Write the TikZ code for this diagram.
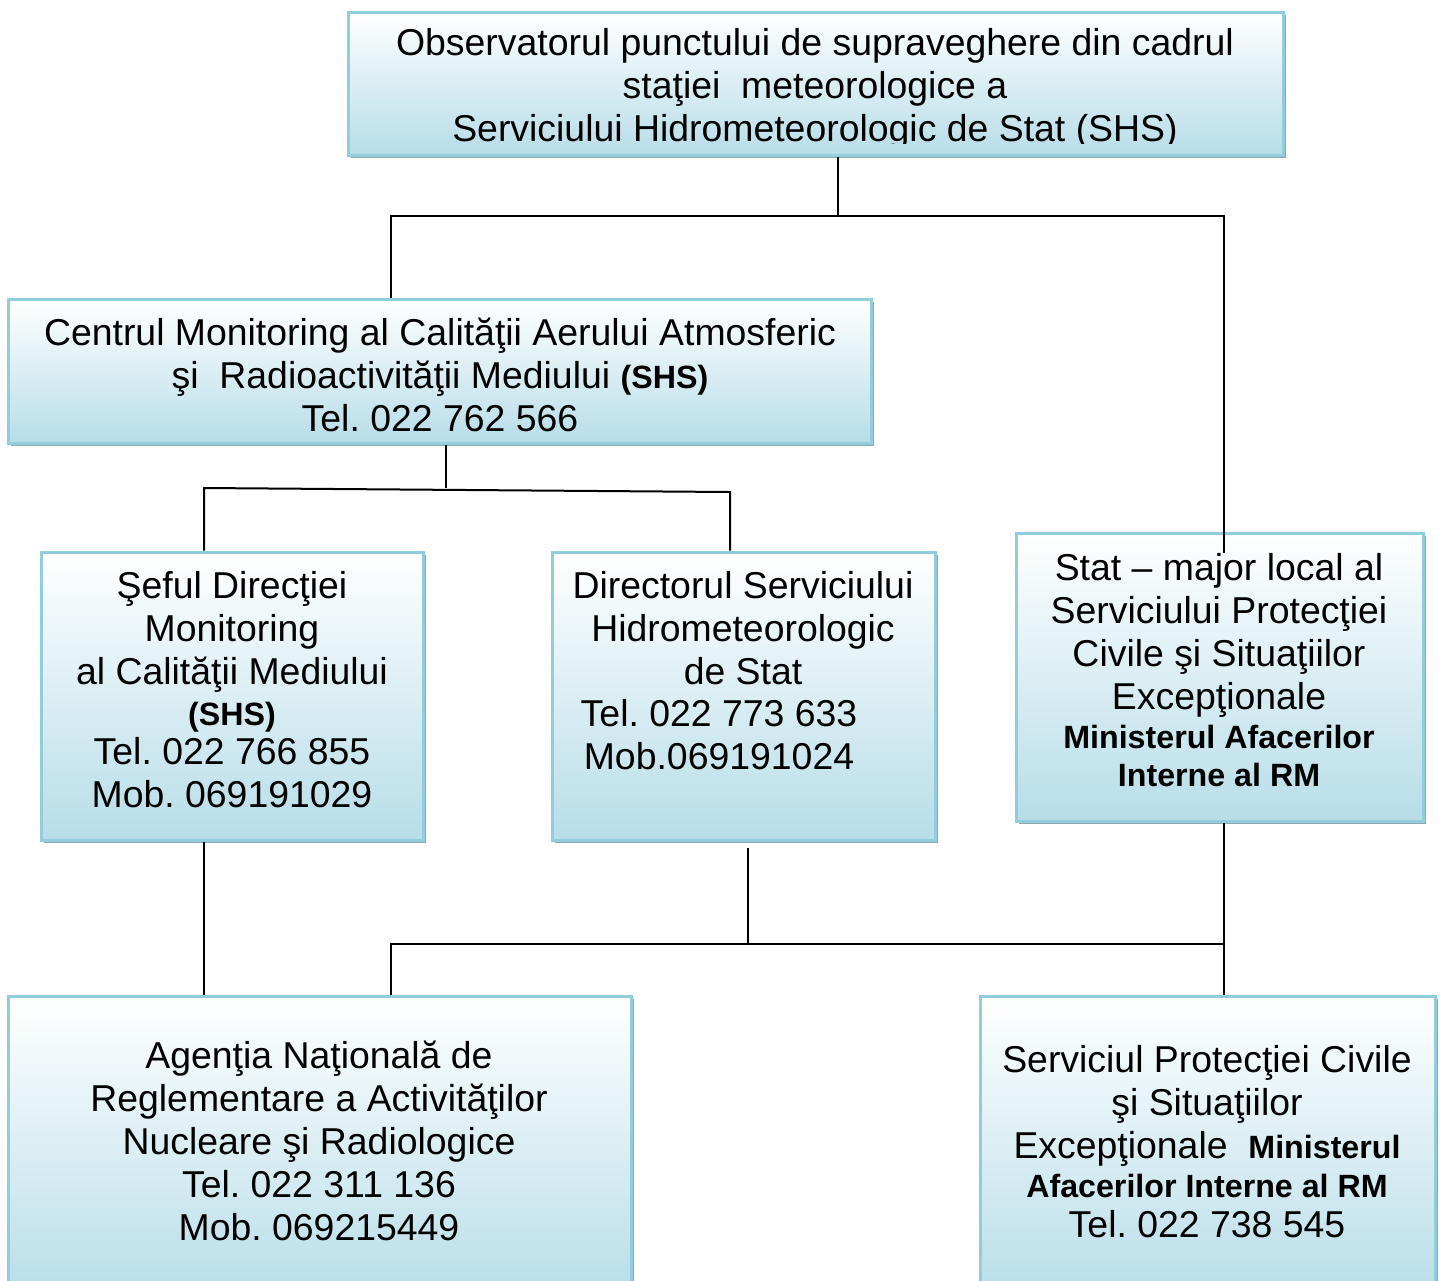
\documentclass[tikz,border=0pt]{standalone}
\usepackage{fontspec}
\setmainfont{Liberation Sans}
\usetikzlibrary{shadows,fit}
\frenchspacing
\definecolor{boxborder}{RGB}{146,205,221}
\definecolor{boxblue}{RGB}{183,221,232}
\definecolor{shadowgray}{RGB}{143,168,176}
\newcommand\bsm[1]{{\fontsize{16.1pt}{19pt}\selectfont\bfseries #1}}
\tikzset{
  box/.style={draw=boxborder, line width=1.5pt, top color=white, bottom color=boxblue,
    inner sep=0pt, drop shadow={shadow xshift=1.5pt, shadow yshift=-1.5pt, fill=shadowgray, opacity=1}},
  txt/.style={align=center, font=\fontsize{18.7pt}{21.5pt}\selectfont, inner sep=0pt},
  link/.style={line width=1pt, black}
}
\begin{document}
\begin{tikzpicture}[x=0.5pt,y=-0.5pt]
\clip (0,0) rectangle (1443,1280);
\fill[white] (0,0) rectangle (1443,1280);
% boxes
\node[box, fit={(348,12) (1283,155)}] (top) {};
\node[box, fit={(8,299) (871,443)}] (centrul) {};
\node[box, fit={(41,552) (423,840)}] (seful) {};
\node[box, fit={(552,552) (935,840)}] (director) {};
\node[box, fit={(1016,533) (1423,821)}] (stat) {};
\node[box, fit={(8,996) (631,1300)}] (agentia) {};
\node[box, fit={(980,996) (1435,1300)}] (serviciul) {};
% texts
\begin{scope}
\clip (340,0) rectangle (1290,143);
\node[txt] (ttop) at (815,89) {Observatorul punctului de supraveghere din cadrul\\
sta\char"0163iei\ \ meteorologice a\\
Serviciului Hidrometeorologic de Stat (SHS)};
\end{scope}
\node[txt] (tcentrul) at (440,375) {Centrul Monitoring al Calităţii Aerului Atmosferic\\
şi\ \ Radioactivităţii Mediului \bsm{(SHS)}\\
Tel. 022 762 566};
\node[txt] (tseful) at (232,690) {Şeful Direcţiei\\ Monitoring\\ al Calităţii Mediului\\[-1pt] \bsm{(SHS)}\\[-2pt] Tel. 022 766 855\\ Mob. 069191029};
\node[txt] (tdir1) at (743,628) {Directorul Serviciului\\ Hidrometeorologic\\ de Stat};
\node[txt] (tdir2) at (719,735) {Tel. 022 773 633\\ Mob.069191024};
\node[txt] (tstat) at (1219,670) {Stat – major local al\\ Serviciului Protecţiei\\ Civile şi Situaţiilor\\ Excepţionale\\[-2pt] \bsm{Ministerul Afacerilor}\\[-2.5pt] \bsm{Interne al RM}};
\node[txt] (tagentia) at (319,1141) {Agenţia Naţională de\\ Reglementare a Activităţilor\\ Nucleare şi Radiologice\\ Tel. 022 311 136\\ Mob. 069215449};
\node[txt] (tserv) at (1207,1142) {Serviciul Protecţiei Civile\\ şi Situaţiilor\\ Excepţionale\ \ \bsm{Ministerul}\\[-2pt] \bsm{Afacerilor Interne al RM}\\[-1.5pt] Tel. 022 738 545};
% junctions
\coordinate (jA) at (838,216);
\coordinate (jL) at (391,216);
\coordinate (jR) at (1224,216);
\coordinate (jB) at (446,488);
\coordinate (jBL) at (204,488);
\coordinate (jBR) at (730,492);
\coordinate (jC) at (748,944);
\coordinate (jCL) at (391,944);
\coordinate (jCR) at (1224,944);
% connectors
\draw[link] (jA |- top.south) -- (jA);
\draw[link] (jL |- centrul.north) -- (jL) -- (jR) -- (jR |- stat.north) -- ++(0,21);
\draw[link] (jB |- centrul.south) -- (jB);
\draw[link] (jBL |- seful.north) -- (jBL) -- (jBR) -- (jBR |- director.north);
\draw[link] (jBL |- seful.south) -- (jBL |- agentia.north);
\draw[link] ([yshift=-3pt]jC |- director.south) -- (jC);
\draw[link] (jCL |- agentia.north) -- (jCL) -- (jCR);
\draw[link] (jR |- stat.south) -- (jR |- serviciul.north);
\end{tikzpicture}
\end{document}
